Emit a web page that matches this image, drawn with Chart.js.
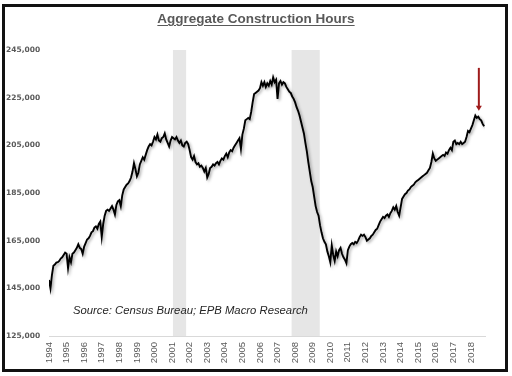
<!DOCTYPE html>
<html>
<head>
<meta charset="utf-8">
<script src="https://cdn.jsdelivr.net/npm/chart.js@4/dist/chart.umd.min.js"></script>
<style>
  html, body { margin: 0; padding: 0; background: #fff; }
  #wrap { position: relative; width: 512px; height: 376px; overflow: hidden; }
  #chart { position: absolute; left: 0; top: 0; }
  #frame {
    position: absolute; left: 2px; top: 4px; width: 506px; height: 368px;
    box-sizing: border-box; border: 3px solid #111; pointer-events: none;
  }
  #title {
    position: absolute; left: 0; width: 512px; top: 11px; text-align: center;
    font: bold 13.5px "Liberation Sans", Arial, sans-serif; color: #595959;
    text-decoration: underline; text-underline-offset: 2px;
  }
  #source {
    position: absolute; left: 73px; top: 304px;
    font: italic 11.3px "Liberation Sans", Arial, sans-serif; color: #262626;
  }
</style>
</head>
<body>
<div id="wrap">
  <canvas id="chart" width="512" height="376"></canvas>
  <div id="title">Aggregate Construction Hours</div>
  <div id="source">Source: Census Bureau; EPB Macro Research</div>
  <div id="frame"></div>
</div>
<script>
// monthly aggregate hours (thousands), starting Jan 1994
const startYear = 1994;
const hours = [
  148.5, 145.0, 150.5, 154.5, 155.0, 155.8, 156.0, 156.5, 157.5, 158.0, 159.0, 160.0, // 1994
  159.5, 153.5, 158.0, 156.0, 159.5, 160.0, 161.0, 162.0, 163.5, 162.0, 161.5, 159.5, // 1995
  162.5, 164.0, 165.5, 166.0, 167.0, 168.5, 169.0, 170.5, 171.0, 170.0, 172.0, 173.0, // 1996
  166.5, 172.0, 175.5, 177.5, 178.0, 177.5, 178.5, 179.5, 178.0, 176.0, 180.0, 181.5, // 1997
  182.0, 179.5, 184.0, 186.5, 187.5, 188.5, 189.0, 190.0, 191.5, 194.0, 197.5, 195.0, // 1998
  192.0, 193.5, 197.0, 198.5, 200.0, 199.0, 201.0, 203.0, 204.5, 205.5, 205.0, 206.5, // 1999
  208.5, 207.5, 209.5, 207.0, 206.5, 208.0, 208.5, 210.0, 207.5, 206.0, 204.5, 207.0, // 2000
  208.5, 208.0, 207.5, 208.5, 207.0, 206.0, 207.0, 205.0, 204.5, 206.0, 206.5, 205.5, // 2001
  203.0, 200.0, 199.0, 200.5, 198.0, 197.0, 197.5, 196.0, 196.5, 195.5, 194.0, 195.5, // 2002
  191.5, 193.0, 195.5, 196.0, 197.0, 196.5, 197.5, 198.0, 197.0, 198.5, 199.5, 199.0, // 2003
  200.5, 201.5, 200.0, 202.0, 203.0, 202.5, 204.0, 205.0, 206.0, 207.0, 208.0, 203.5, // 2004
  209.5, 212.0, 215.5, 216.0, 216.5, 216.0, 219.0, 223.0, 226.5, 227.0, 227.5, 228.0, // 2005
  229.0, 231.5, 230.0, 231.5, 229.5, 231.0, 230.0, 232.0, 230.5, 233.5, 231.5, 232.5, // 2006
  224.5, 231.0, 232.0, 230.5, 231.5, 231.0, 229.5, 228.5, 227.5, 227.0, 225.5, 224.5, // 2007
  223.0, 221.0, 219.5, 217.5, 215.0, 212.5, 210.0, 206.0, 202.5, 198.0, 194.0, 190.0, // 2008
  187.5, 183.5, 179.5, 177.0, 175.5, 171.5, 168.5, 166.0, 164.5, 163.5, 160.5, 158.5, // 2009
  156.0, 163.0, 159.0, 156.5, 160.5, 158.5, 161.0, 162.0, 159.5, 158.0, 157.0, 155.5, // 2010
  161.0, 162.5, 163.5, 164.0, 163.5, 164.5, 164.0, 165.0, 166.5, 167.5, 167.0, 167.5, // 2011
  166.5, 165.0, 165.5, 166.0, 167.0, 167.5, 168.5, 169.5, 170.0, 171.5, 173.0, 174.0, // 2012
  175.0, 174.5, 175.5, 176.0, 175.0, 176.5, 177.5, 179.0, 178.0, 179.5, 177.0, 175.5, // 2013
  179.0, 182.5, 183.5, 184.5, 185.0, 186.0, 186.5, 187.5, 188.0, 188.5, 189.5, 190.0, // 2014
  190.5, 191.0, 191.5, 192.0, 192.5, 193.0, 193.5, 194.5, 195.5, 198.0, 201.5, 199.5, // 2015
  198.5, 199.0, 199.5, 200.0, 200.5, 201.0, 200.5, 202.0, 201.5, 203.0, 204.0, 203.0, // 2016
  206.5, 207.0, 205.5, 206.0, 205.5, 206.5, 205.5, 206.0, 206.5, 208.5, 211.0, 210.5, // 2017
  212.0, 213.5, 215.5, 217.5, 216.5, 217.0, 216.0, 215.5, 214.0, 213.0               // 2018
];

const years = [1994, 1995, 1996, 1997, 1998, 1999, 2000, 2001, 2002, 2003, 2004, 2005, 2006,
  2007, 2008, 2009, 2010, 2011, 2012, 2013, 2014, 2015, 2016, 2017, 2018];
const yTicks = [125, 145, 165, 185, 205, 225, 245];
const recessions = [[2001.05, 2001.8], [2007.8, 2009.4]];
const arrowMark = { x: 2018.45, from: 237.5, to: 219.5 };

const points = hours.map((v, i) => ({ x: startYear + i / 12, y: v }));

const recessionBands = {
  id: 'recessionBands',
  beforeDatasetsDraw(chart) {
    const { ctx, chartArea, scales } = chart;
    ctx.save();
    ctx.fillStyle = '#e6e6e6';
    recessions.forEach(([a, b]) => {
      const x1 = scales.x.getPixelForValue(a);
      const x2 = scales.x.getPixelForValue(b);
      ctx.fillRect(x1, chartArea.top, x2 - x1, chartArea.bottom - chartArea.top);
    });
    ctx.restore();
  }
};

const lineShadow = {
  id: 'lineShadow',
  beforeDatasetDraw(chart) {
    const ctx = chart.ctx;
    ctx.save();
    ctx.shadowColor = 'rgba(0,0,0,0.35)';
    ctx.shadowBlur = 3;
    ctx.shadowOffsetX = 1.5;
    ctx.shadowOffsetY = 1.5;
  },
  afterDatasetDraw(chart) {
    chart.ctx.restore();
  }
};

const redArrow = {
  id: 'redArrow',
  afterDatasetsDraw(chart) {
    const { ctx, scales } = chart;
    const x = scales.x.getPixelForValue(arrowMark.x);
    const y1 = scales.y.getPixelForValue(arrowMark.from);
    const y2 = scales.y.getPixelForValue(arrowMark.to);
    ctx.save();
    ctx.strokeStyle = '#9e1b1b';
    ctx.fillStyle = '#9e1b1b';
    ctx.lineWidth = 2;
    ctx.beginPath();
    ctx.moveTo(x, y1);
    ctx.lineTo(x, y2 - 4);
    ctx.stroke();
    ctx.beginPath();
    ctx.moveTo(x - 3, y2 - 5);
    ctx.lineTo(x + 3, y2 - 5);
    ctx.lineTo(x, y2);
    ctx.closePath();
    ctx.fill();
    ctx.restore();
  }
};

new Chart(document.getElementById('chart').getContext('2d'), {
  type: 'line',
  data: {
    datasets: [{
      data: points,
      borderColor: '#000',
      borderWidth: 1.9,
      pointRadius: 0,
      tension: 0,
    }],
  },
  options: {
    responsive: false,
    animation: false,
    events: [],
    layout: { padding: { top: 50, left: 6, right: 27, bottom: 0 } },
    plugins: { legend: { display: false }, tooltip: { enabled: false } },
    scales: {
      x: {
        type: 'linear',
        min: 1994,
        max: 2018.8,
        afterBuildTicks: (scale) => { scale.ticks = years.map((v) => ({ value: v })); },
        afterFit: (scale) => { scale.height = 40; },
        grid: { display: false, drawTicks: false },
        border: { display: true, color: '#d9d9d9', width: 1 },
        ticks: {
          minRotation: 90,
          maxRotation: 90,
          autoSkip: false,
          padding: 6,
          color: '#595959',
          font: { family: 'Liberation Sans', size: 9.5 },
          callback: (v) => String(v),
        },
      },
      y: {
        min: 125,
        max: 245,
        afterBuildTicks: (scale) => { scale.ticks = yTicks.map((v) => ({ value: v })); },
        afterFit: (scale) => { scale.width = 43; },
        grid: { display: false, drawTicks: false },
        border: { display: false },
        ticks: {
          crossAlign: 'far',
          color: '#595959',
          font: { family: 'DejaVu Sans', size: 7.5, weight: 'bold' },
          callback: (v) => v + ',000',
        },
      },
    },
  },
  plugins: [recessionBands, lineShadow, redArrow],
});
</script>
</body>
</html>
